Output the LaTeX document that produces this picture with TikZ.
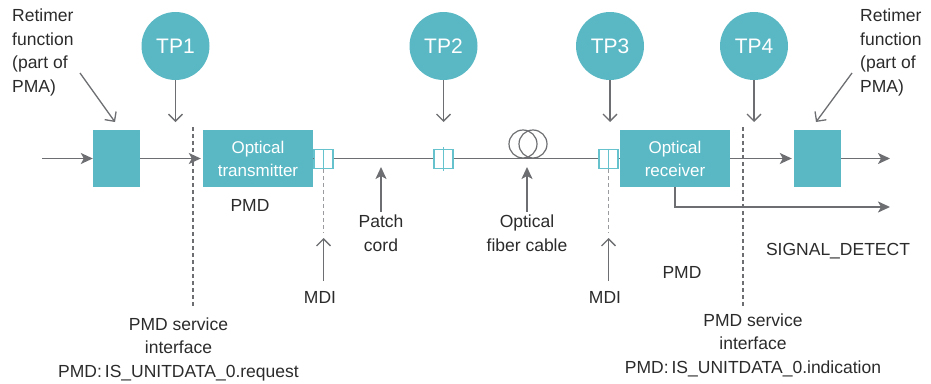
\documentclass[tikz,border=0pt]{standalone}
\usepackage{fontspec}
\setmainfont{Liberation Sans}
\usetikzlibrary{arrows.meta}
\definecolor{teal1}{HTML}{59B8C4}
\definecolor{conn}{HTML}{66C2CC}
\definecolor{gr}{HTML}{6D6E71}
\definecolor{gl}{HTML}{9A9B9E}
\definecolor{txt}{HTML}{2B2B2B}
\tikzset{
  box/.style={fill=teal1, draw=none, minimum width=110pt, minimum height=57pt, inner sep=0pt, text=white, align=center, font=\fontsize{17}{23}\selectfont},
  tp/.style={circle, fill=teal1, minimum size=68pt, inner sep=0pt, text=white, font=\fontsize{21}{24}\selectfont},
  lbl/.style={text=txt, inner sep=0pt, align=center, font=\fontsize{17.5}{23.5}\selectfont},
  flow/.style={draw=gr, line width=1.7pt, -{Stealth[length=12pt,width=11pt,inset=3pt]}},
  ptr/.style={draw=gr, line width=1.3pt, -{Straight Barb[length=7pt,width=14pt]}},
  dsh/.style={draw=gr, line width=1.3pt, dash pattern=on 4pt off 3pt},
  ldsh/.style={draw=gl, line width=1.1pt, dash pattern=on 4pt off 3pt},
  con/.style={draw=conn, line width=1.3pt, fill=white, minimum width=19pt, minimum height=19pt, inner sep=0pt},
  coil/.style={circle, draw=gr, line width=1.2pt, minimum size=28pt, inner sep=0pt},
  fib/.style={draw=gr, line width=1.7pt}
}
\begin{document}
\begin{tikzpicture}[x=1pt,y=-1pt]
\useasboundingbox (0,0) rectangle (931,383);

% boxes
\node[box, minimum width=47pt] (rl) at (116.5,158.5) {};
\node[box] (tx) at (258,158.5) {Optical\\transmitter};
\node[box] (rx) at (675,158.5) {Optical\\receiver};
\node[box, minimum width=47pt] (rr) at (817.5,158.5) {};

% TP circles
\node[tp] (tp1) at (175.5,46) {TP1};
\node[tp] (tp2) at (443.5,46) {TP2};
\node[tp] (tp3) at (610,46) {TP3};
\node[tp] (tp4) at (754,46) {TP4};
\coordinate (t1) at (175.5,122);
\coordinate (t2) at (443.5,122);
\coordinate (t3) at (610,122);
\coordinate (t4) at (754,122);
\draw[ptr] (tp1) -- (t1);
\draw[ptr] (tp2) -- (t2);
\draw[ptr] (tp3) -- (t3);
\draw[ptr] (tp4) -- (t4);

% coil
\node[coil] (cl1) at (523,144) {};
\node[coil] (cl2) at (533,144) {};

% fiber line and connectors
\node[con] (c1) at (323.5,159) {};
\node[con] (c2) at (443.5,159) {};
\node[con] (c3) at (608.5,159) {};
\draw[fib] (c1.east |- 0,158.5) -- (c2.west |- 0,158.5);
\draw[fib] (c2.east |- 0,158.5) -- (c3.west |- 0,158.5);
\draw[fib] (c3.east |- 0,158.5) -- (rx.west);
\draw[fib] (tx.east) -- (c1.west |- 0,158.5);
\draw[draw=conn, line width=1.3pt] (c1.north) -- (c1.south);
\draw[draw=conn, line width=1.3pt] ([yshift=2pt]c2.north) -- ([yshift=-2pt]c2.south);
\draw[draw=conn, line width=1.3pt] (c3.north) -- (c3.south);

% flow arrows
\coordinate (in) at (42,158.5);
\coordinate (out1) at (890,158.5);
\coordinate (out2) at (890,207);
\draw[flow] (in) -- (rl.west);
\draw[flow, shorten >=2pt] (rl.east) -- (tx.west);
\draw[flow, shorten >=2pt] (rx.east) -- (rr.west);
\draw[flow] (rr.east) -- (out1);
\draw[flow] (rx.south) |- (out2);

% service interface dashed lines
\coordinate (d1a) at (193,127);
\coordinate (d1b) at (193,308);
\coordinate (d2a) at (743,127);
\coordinate (d2b) at (743,308);
\draw[dsh] (d1a) -- (d1b);
\draw[dsh] (d2a) -- (d2b);

% MDI
\node[lbl] (mdi1) at (320,297) {MDI};
\node[lbl] (mdi2) at (605,297) {MDI};
\coordinate (m1a) at (323.5,233);
\coordinate (m2a) at (608.5,233);
\coordinate (m1t) at (323.5,238);
\coordinate (m2t) at (608.5,238);
\coordinate (m1b) at (323.5,281);
\coordinate (m2b) at (608.5,281);
\draw[ldsh] (c1.south) -- (m1a);
\draw[ldsh] (c3.south) -- (m2a);
\draw[ptr] (m1b) -- (m1t);
\draw[ptr] (m2b) -- (m2t);

% patch cord and fiber labels
\node[lbl] (patch) at (381,233) {Patch\\cord};
\node[lbl] (fiber) at (527,233) {Optical\\fiber cable};
\coordinate (pt) at (381,167);
\coordinate (ft) at (527,167);
\draw[flow] ([yshift=3pt]patch.north) -- (pt);
\draw[flow] ([yshift=3pt]fiber.north) -- (ft);

% retimer labels
\node[lbl, align=left, anchor=west] (retl) at (12,52.5) {Retimer\\function\\(part of\\PMA)};
\node[lbl, align=left, anchor=west] (retr) at (860,52.5) {Retimer\\function\\(part of\\PMA)};
\coordinate (p1s) at (80,73);
\coordinate (p1e) at (115,122);
\coordinate (p2s) at (852,73);
\coordinate (p2e) at (816,122);
\draw[ptr] (p1s) -- (p1e);
\draw[ptr] (p2s) -- (p2e);

% other labels
\node[lbl] (pmd1) at (250,205) {PMD};
\node[lbl] (pmd2) at (682,272) {PMD};
\node[lbl] (sig) at (838,251) {SIGNAL\_DETECT};
\node[lbl] (sil) at (178.5,349) {PMD service\\interface\\PMD:\,IS\_UNITDATA\_0.request};
\node[lbl] (sir) at (753,345) {PMD service\\interface\\PMD:\,IS\_UNITDATA\_0.indication};
\end{tikzpicture}
\end{document}
